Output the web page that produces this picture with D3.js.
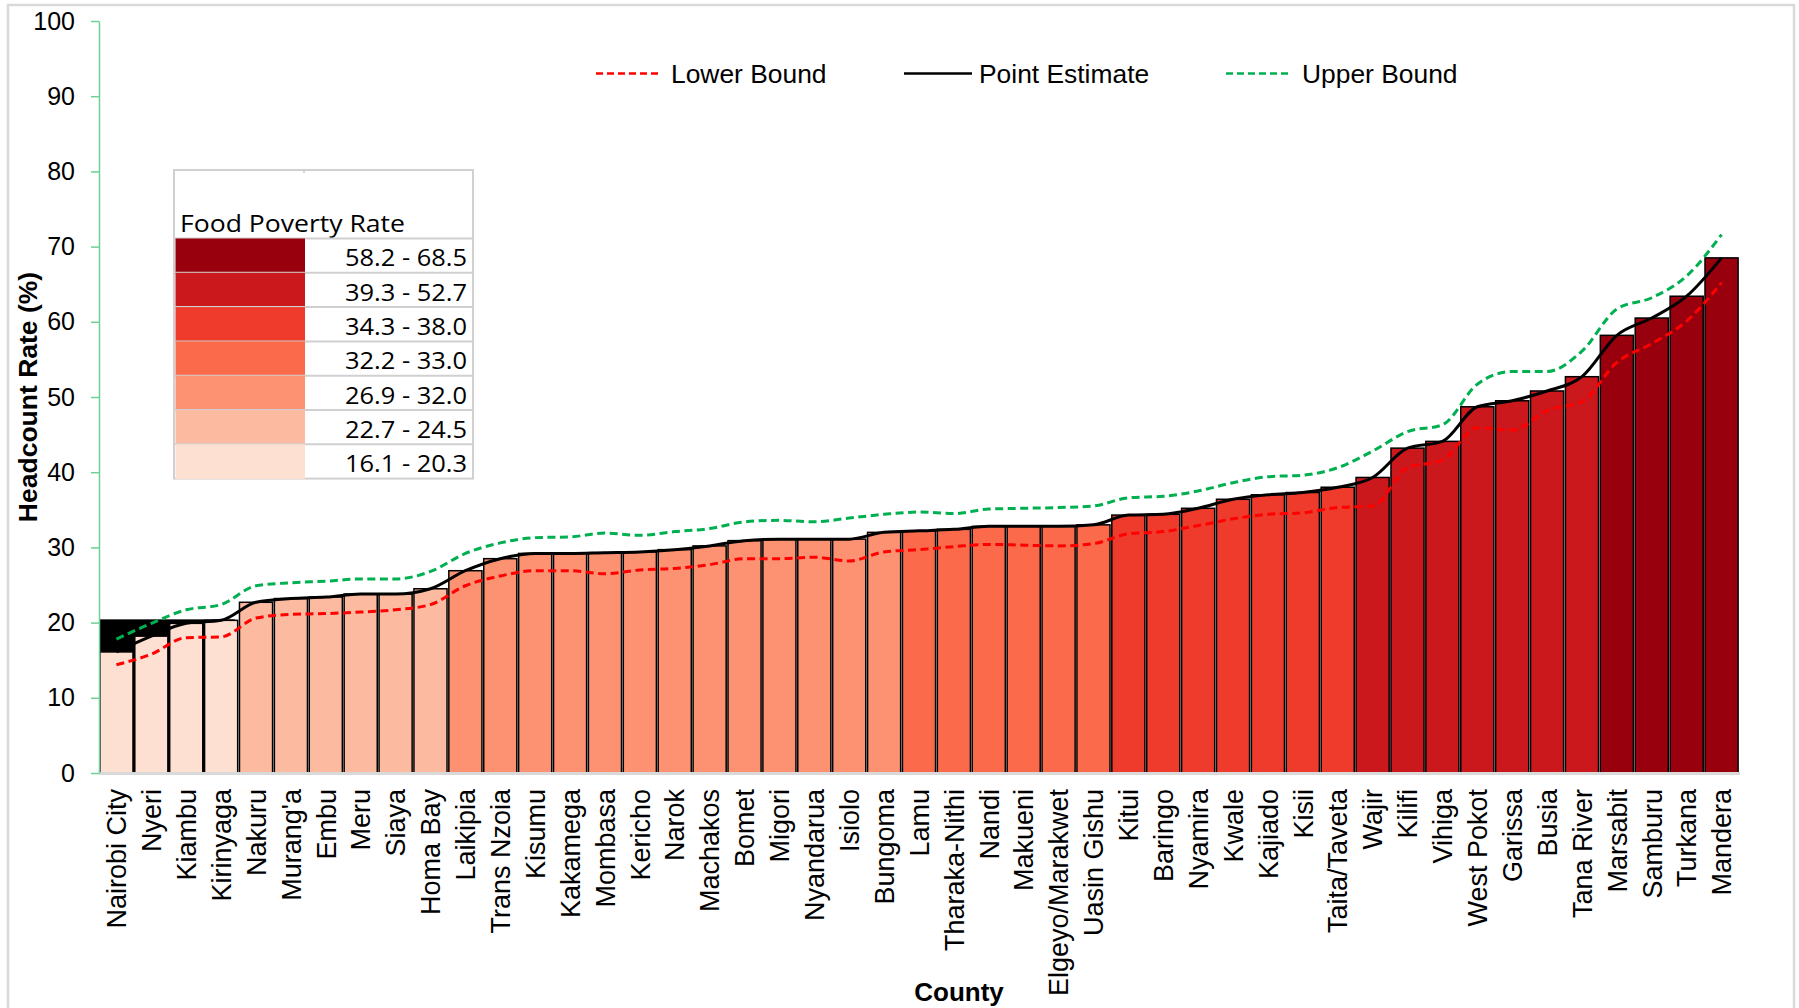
<!DOCTYPE html>
<html>
<head>
<meta charset="utf-8">
<script src="https://cdn.jsdelivr.net/npm/d3@7/dist/d3.min.js"></script>
<style>
  html, body { margin: 0; padding: 0; background: #fff; }
  svg { display: block; }
</style>
</head>
<body>
<svg id="chart" width="1799" height="1008"></svg>
<script>
// County food poverty headcount rates (%), ordered from lowest to highest
const counties = [
  "Nairobi City", "Nyeri", "Kiambu", "Kirinyaga", "Nakuru", "Murang'a", "Embu", "Meru",
  "Siaya", "Homa Bay", "Laikipia", "Trans Nzoia", "Kisumu", "Kakamega", "Mombasa", "Kericho",
  "Narok", "Machakos", "Bomet", "Migori", "Nyandarua", "Isiolo", "Bungoma", "Lamu",
  "Tharaka-Nithi", "Nandi", "Makueni", "Elgeyo/Marakwet", "Uasin Gishu", "Kitui", "Baringo",
  "Nyamira", "Kwale", "Kajiado", "Kisii", "Taita/Taveta", "Wajir", "Kilifi", "Vihiga",
  "West Pokot", "Garissa", "Busia", "Tana River", "Marsabit", "Samburu", "Turkana", "Mandera"
];

const pointEstimate = [
  16.1, 18.2, 19.9, 20.3, 22.7, 23.2, 23.4, 23.8,
  23.8, 24.5, 26.9, 28.5, 29.2, 29.2, 29.3, 29.4,
  29.7, 30.2, 30.9, 31.1, 31.1, 31.1, 32.0, 32.2,
  32.4, 32.8, 32.8, 32.8, 33.0, 34.3, 34.4,
  35.2, 36.4, 37.0, 37.3, 38.0, 39.3, 43.2, 44.1,
  48.7, 49.5, 50.8, 52.7, 58.2, 60.5, 63.4, 68.5
];

const lowerBound = [
  14.4, 15.8, 18.0, 18.1, 20.6, 21.1, 21.2, 21.4,
  21.7, 22.4, 24.9, 26.2, 26.9, 26.9, 26.5, 27.0,
  27.2, 27.7, 28.5, 28.5, 28.7, 28.2, 29.4, 29.7,
  30.1, 30.4, 30.3, 30.2, 30.5, 31.8, 32.1,
  32.9, 33.8, 34.4, 34.6, 35.3, 35.5, 40.6, 41.6,
  45.9, 45.6, 48.2, 49.4, 54.6, 57.1, 60.1, 65.2
];

const upperBound = [
  17.8, 19.9, 21.7, 22.4, 24.9, 25.3, 25.5, 25.8,
  25.8, 26.8, 29.2, 30.6, 31.3, 31.4, 31.9, 31.6,
  32.1, 32.5, 33.4, 33.6, 33.4, 33.9, 34.4, 34.7,
  34.5, 35.1, 35.2, 35.3, 35.5, 36.6, 36.8,
  37.5, 38.6, 39.4, 39.6, 40.6, 42.8, 45.4, 46.3,
  51.7, 53.4, 53.4, 56.1, 61.7, 63.2, 66.1, 71.6
];

const yTicks = [0, 10, 20, 30, 40, 50, 60, 70, 80, 90, 100];

// Colour classes of the food poverty rate, highest first
const classLabels = ["58.2 - 68.5", "39.3 - 52.7", "34.3 - 38.0", "32.2 - 33.0", "26.9 - 32.0", "22.7 - 24.5", "16.1 - 20.3"];
const classLow    = [58.2, 39.3, 34.3, 32.2, 26.9, 22.7, 16.1];
const classHigh   = [68.5, 52.7, 38.0, 33.0, 32.0, 24.5, 20.3];
const classColors = ["#99000d", "#cb181d", "#ef3b2c", "#fb6a4a", "#fc9272", "#fcbba1", "#fee0d2"];

const seriesNames = ["Lower Bound", "Point Estimate", "Upper Bound"];

// ---------------------------------------------------------------------------
const svg = d3.select("#chart");
const FONT = "'Liberation Sans', Arial, sans-serif";

svg.append("rect").attr("x", 0).attr("y", 0).attr("width", 1799).attr("height", 1008).attr("fill", "#fff");

// chart area frame
svg.append("rect")
  .attr("x", 8).attr("y", 5).attr("width", 1786).attr("height", 1020)
  .attr("fill", "none").attr("stroke", "#d9d9d9").attr("stroke-width", 2.5);

const x = d3.scaleBand().domain(counties).range([99, 1739]).padding(0);
const y = d3.scaleLinear().domain([0, 100]).range([773, 21]);
const bw = x.bandwidth();

function classIndex(v) {
  for (let i = 0; i < classLow.length; i++) if (v >= classLow[i]) return i;
  return classLow.length - 1;
}

const rows = counties.map((c, i) => ({
  county: c, est: pointEstimate[i], lo: lowerBound[i], hi: upperBound[i]
}));

// dark backdrop behind the lowest class, up to its upper bound
const lowestIdx = classLow.length - 1;
const lowestRows = rows.filter(d => classIndex(d.est) === lowestIdx);
svg.append("rect")
  .attr("x", x(lowestRows[0].county))
  .attr("y", y(classHigh[lowestIdx]) - 1)
  .attr("width", x(lowestRows[lowestRows.length - 1].county) + bw - x(lowestRows[0].county) - 4)
  .attr("height", y(0) - y(classHigh[lowestIdx]) + 1)
  .attr("fill", "#000");

// bars
svg.append("g").selectAll("rect").data(rows).join("rect")
  .attr("x", d => x(d.county) + 0.9)
  .attr("y", d => y(d.est))
  .attr("width", bw - 1.8)
  .attr("height", d => y(0) - y(d.est))
  .attr("fill", d => classColors[classIndex(d.est)])
  .attr("stroke", "#000")
  .attr("stroke-width", 1.5);

// x baseline
svg.append("line")
  .attr("x1", 99).attr("x2", 1740).attr("y1", 773.5).attr("y2", 773.5)
  .attr("stroke", "#d9d9d9").attr("stroke-width", 3);

// y axis
const yAxis = svg.append("g")
  .attr("transform", "translate(99,0)")
  .call(d3.axisLeft(y).tickValues(yTicks).tickSize(8).tickSizeOuter(0).tickPadding(16));
yAxis.select(".domain").attr("stroke", "#6fcf97").attr("stroke-width", 1.5);
yAxis.selectAll(".tick line").attr("stroke", "#6fcf97").attr("stroke-width", 1.5);
yAxis.selectAll(".tick text")
  .attr("font-family", FONT).attr("font-size", 25).attr("fill", "#000");

// x axis labels
const xAxis = svg.append("g")
  .attr("transform", "translate(0,773)")
  .call(d3.axisBottom(x).tickSize(0).tickSizeOuter(0));
xAxis.select(".domain").remove();
xAxis.selectAll(".tick text")
  .attr("font-family", FONT).attr("font-size", 27).attr("fill", "#000")
  .attr("text-anchor", "end")
  .attr("transform", "rotate(-90)")
  .attr("x", -16).attr("y", 0).attr("dy", "0.36em");

// smoothed series lines
const cx = d => x(d.county) + bw / 2;
const mkLine = key => d3.line().x(cx).y(d => y(d[key])).curve(d3.curveMonotoneX);

svg.append("path").datum(rows)
  .attr("d", mkLine("lo")).attr("fill", "none")
  .attr("stroke", "#ff0000").attr("stroke-width", 3).attr("stroke-dasharray", "8,4.5");
svg.append("path").datum(rows)
  .attr("d", mkLine("hi")).attr("fill", "none")
  .attr("stroke", "#00b050").attr("stroke-width", 3).attr("stroke-dasharray", "8,4.5");
svg.append("path").datum(rows)
  .attr("d", mkLine("est")).attr("fill", "none")
  .attr("stroke", "#000").attr("stroke-width", 3);

// axis titles
svg.append("text")
  .attr("transform", "translate(28,397) rotate(-90)")
  .attr("text-anchor", "middle").attr("dominant-baseline", "central")
  .attr("font-family", FONT).attr("font-size", 26.5).attr("font-weight", "bold")
  .text("Headcount Rate (%)");
svg.append("text")
  .attr("x", 959).attr("y", 1001)
  .attr("text-anchor", "middle")
  .attr("font-family", FONT).attr("font-size", 26).attr("font-weight", "bold")
  .text("County");

// series legend
const seriesStyle = [
  { color: "#ff0000", dash: "7,4", x0: 596, x1: 662, tx: 671 },
  { color: "#000000", dash: null,  x0: 904, x1: 972, tx: 979 },
  { color: "#00b050", dash: "7,4", x0: 1226, x1: 1291, tx: 1302 }
];
const leg = svg.append("g");
seriesNames.forEach((name, i) => {
  const s = seriesStyle[i];
  leg.append("line")
    .attr("x1", s.x0).attr("x2", s.x1).attr("y1", 73.5).attr("y2", 73.5)
    .attr("stroke", s.color).attr("stroke-width", 2.5)
    .attr("stroke-dasharray", s.dash);
  leg.append("text")
    .attr("x", s.tx).attr("y", 82.5)
    .attr("font-family", FONT).attr("font-size", 26.4).attr("fill", "#000")
    .text(name);
});

// colour class table
const TFONT = "'Open Sans', 'Noto Sans', sans-serif";
const tbl = svg.append("g");
const tL = 174, tR = 473, tTop = 170, hdrB = 238.5, rowH = 34.3, swR = 305;
const tBottom = hdrB + rowH * classLabels.length;
tbl.append("rect").attr("x", tL).attr("y", tTop).attr("width", tR - tL).attr("height", tBottom - tTop)
  .attr("fill", "#fff").attr("stroke", "#d0d0d0").attr("stroke-width", 2);
tbl.append("line").attr("x1", swR - 1).attr("x2", swR - 1).attr("y1", tTop - 1).attr("y2", tTop + 3)
  .attr("stroke", "#c8c8c8").attr("stroke-width", 1.5);
tbl.append("text")
  .attr("x", 180).attr("y", 231.5)
  .attr("font-family", TFONT).attr("font-size", 23).attr("fill", "#000")
  .attr("textLength", 225).attr("lengthAdjust", "spacingAndGlyphs")
  .text("Food Poverty Rate");
classLabels.forEach((lab, i) => {
  const ry = hdrB + rowH * i;
  tbl.append("line").attr("x1", tL).attr("x2", tR).attr("y1", ry).attr("y2", ry)
    .attr("stroke", "#d0d0d0").attr("stroke-width", 2);
  tbl.append("rect").attr("x", tL + 1.5).attr("y", ry).attr("width", swR - tL - 1.5).attr("height", rowH + 0.5)
    .attr("fill", classColors[i]);
  tbl.append("text")
    .attr("x", 467).attr("y", ry + rowH - 6.5)
    .attr("text-anchor", "end")
    .attr("font-family", TFONT).attr("font-size", 23).attr("fill", "#000")
    .attr("textLength", 122).attr("lengthAdjust", "spacingAndGlyphs")
    .text(lab);
});
</script>
</body>
</html>
